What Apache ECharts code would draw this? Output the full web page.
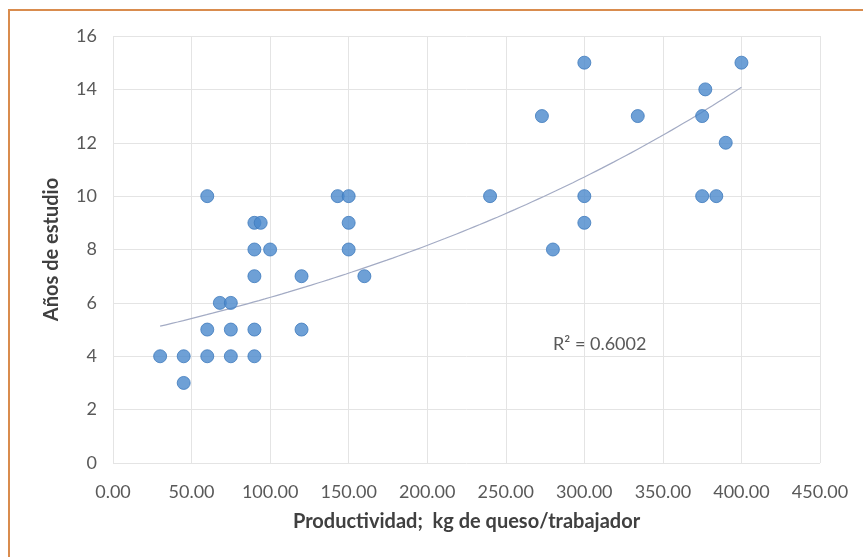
<!DOCTYPE html>
<html><head><meta charset="utf-8">
<script src="https://cdn.jsdelivr.net/npm/echarts@6/dist/echarts.min.js"></script>
<style>html,body{margin:0;padding:0;background:#fff}#c{width:863px;height:557px}</style>
</head><body><div id="c"></div>
<script>
const productividad = [30,45,45,60,60,60,68,75,75,75,90,94,90,90,90,90,100,120,120,143,150,150,150,160,240,273,280,300,300,300,334,375,377,375,384,390,400];
const aniosEstudio  = [4,4,3,10,5,4,6,6,5,4,9,9,8,7,5,4,8,7,5,10,10,9,8,7,10,13,8,15,10,9,13,13,14,10,10,12,15];
const xTicks = [0,50,100,150,200,250,300,350,400,450];
const yTicks = [0,2,4,6,8,10,12,14,16];
const r2Text = 'R² = 0.6002';
const xTitle = 'Productividad;  kg de queso/trabajador';
const yTitle = 'Años de estudio';

// exponential trendline fit (least squares on ln y), as Excel does
const n = productividad.length;
let sx=0, sy=0, sxx=0, sxy=0;
for (let i=0;i<n;i++){ const x=productividad[i], ly=Math.log(aniosEstudio[i]); sx+=x; sy+=ly; sxx+=x*x; sxy+=x*ly; }
const b = (n*sxy - sx*sy)/(n*sxx - sx*sx);
const lnA = (sy - b*sx)/n;
const xMin = Math.min(...productividad), xMax = Math.max(...productividad);
const trend = [];
for (let k=0;k<=100;k++){ const x = xMin + (xMax-xMin)*k/100; trend.push([x, Math.exp(lnA + b*x)]); }

const pts = productividad.map((x,i)=>[x, aniosEstudio[i]]);
const font = 'Lato, "Open Sans", sans-serif';
const chart = echarts.init(document.getElementById('c'), null, {renderer:'canvas'});
chart.setOption({
  animation:false,
  backgroundColor:'#ffffff',
  grid:{left:113, right:43, top:36, bottom:94},
  xAxis:{type:'value', min:xTicks[0], max:xTicks[xTicks.length-1], interval:50,
    axisLine:{show:false}, axisTick:{show:false},
    splitLine:{show:true, lineStyle:{color:'#e4e4e4', width:1}},
    axisLabel:{color:'#595959', fontSize:18, fontFamily:font, margin:20, formatter:v=>v.toFixed(2)},
    name:xTitle, nameLocation:'middle', nameGap:49,
    nameTextStyle:{color:'#404040', fontSize:20, fontWeight:'bold', fontFamily:font}},
  yAxis:{type:'value', min:yTicks[0], max:yTicks[yTicks.length-1], interval:2,
    axisLine:{show:false}, axisTick:{show:false},
    splitLine:{show:true, lineStyle:{color:'#e4e4e4', width:1}},
    axisLabel:{color:'#595959', fontSize:18, fontFamily:font, margin:16},
    name:yTitle, nameLocation:'middle', nameGap:51, nameRotate:90,
    nameTextStyle:{color:'#404040', fontSize:20, fontWeight:'bold', fontFamily:font}},
  series:[
    {type:'line', data:trend, showSymbol:false, symbol:'none', smooth:false,
      lineStyle:{color:'#a3abc4', width:1.2}, z:1},
    {type:'scatter', data:pts, symbol:'circle', symbolSize:13,
      itemStyle:{color:'#4a88cc', borderColor:'#3f7bbd', borderWidth:1}, z:3}
  ],
  graphic:[
    {type:'rect', left:0, top:0, shape:{x:0,y:0,width:863,height:557}, style:{fill:'#fff'}, z:-10, silent:true},
    {type:'line', shape:{x1:8,y1:10,x2:863,y2:10}, style:{stroke:'#d98c4e', lineWidth:2}, z:10},
    {type:'line', shape:{x1:9,y1:10,x2:9,y2:557}, style:{stroke:'#d98c4e', lineWidth:2}, z:10},
    {type:'text', left:553, top:335, style:{text:r2Text, fill:'#595959', font:'18px Lato, "Open Sans", sans-serif'}, z:10}
  ]
});
</script></body></html>
